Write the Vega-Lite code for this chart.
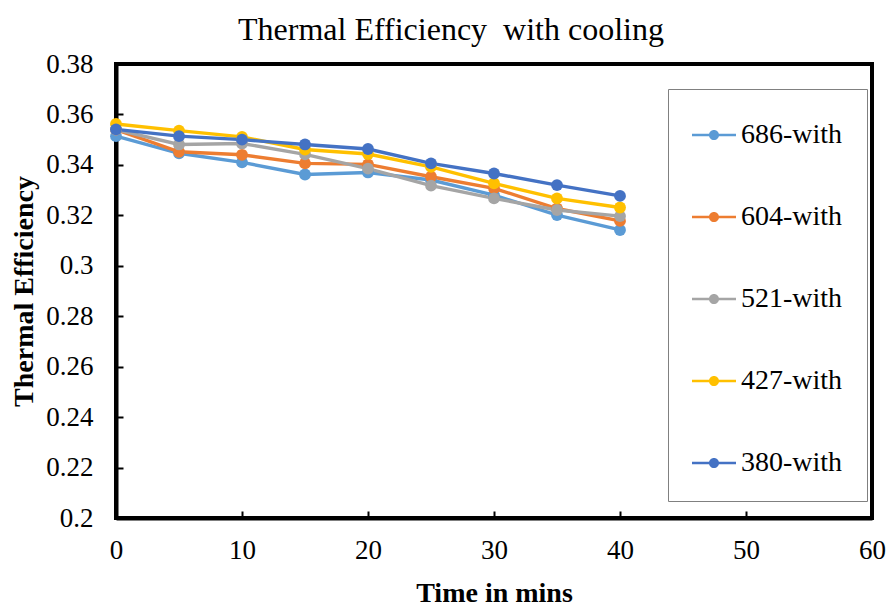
{
  "$schema": "https://vega.github.io/schema/vega-lite/v6.json",
  "width": 756,
  "height": 454,
  "autosize": "none",
  "padding": {"left": 116, "top": 64, "right": 15, "bottom": 89},
  "background": "white",
  "title": {
    "text": "Thermal Efficiency\u00a0 with cooling",
    "font": "Liberation Serif",
    "fontSize": 32,
    "fontWeight": "normal",
    "color": "black",
    "anchor": "middle",
    "dx": -43,
    "offset": 3
  },
  "config": {
    "font": "Liberation Serif",
    "view": {"stroke": "black", "strokeWidth": 4},
    "axis": {
      "labelFont": "Liberation Serif",
      "labelFontSize": 27,
      "labelColor": "black",
      "labelFlush": false,
      "titleFont": "Liberation Serif",
      "titleFontSize": 28,
      "titleFontWeight": "bold",
      "titleColor": "black",
      "domainColor": "black",
      "domainWidth": 4,
      "tickColor": "black",
      "tickWidth": 2,
      "tickSize": -7,
      "grid": false
    },
    "legend": {"labelFont": "Liberation Serif"}
  },
  "data": {
    "values": [
      {"t": 0, "series": "686-with", "eff": 0.3514},
      {"t": 5, "series": "686-with", "eff": 0.3446},
      {"t": 10, "series": "686-with", "eff": 0.3410},
      {"t": 15, "series": "686-with", "eff": 0.3362},
      {"t": 20, "series": "686-with", "eff": 0.3370},
      {"t": 25, "series": "686-with", "eff": 0.3340},
      {"t": 30, "series": "686-with", "eff": 0.3280},
      {"t": 35, "series": "686-with", "eff": 0.3201},
      {"t": 40, "series": "686-with", "eff": 0.3142},
      {"t": 0, "series": "604-with", "eff": 0.3540},
      {"t": 5, "series": "604-with", "eff": 0.3452},
      {"t": 10, "series": "604-with", "eff": 0.3440},
      {"t": 15, "series": "604-with", "eff": 0.3406},
      {"t": 20, "series": "604-with", "eff": 0.3402},
      {"t": 25, "series": "604-with", "eff": 0.3353},
      {"t": 30, "series": "604-with", "eff": 0.3307},
      {"t": 35, "series": "604-with", "eff": 0.3227},
      {"t": 40, "series": "604-with", "eff": 0.3178},
      {"t": 0, "series": "521-with", "eff": 0.3540},
      {"t": 5, "series": "521-with", "eff": 0.3481},
      {"t": 10, "series": "521-with", "eff": 0.3485},
      {"t": 15, "series": "521-with", "eff": 0.3442},
      {"t": 20, "series": "521-with", "eff": 0.3385},
      {"t": 25, "series": "521-with", "eff": 0.3318},
      {"t": 30, "series": "521-with", "eff": 0.3267},
      {"t": 35, "series": "521-with", "eff": 0.3221},
      {"t": 40, "series": "521-with", "eff": 0.3197},
      {"t": 0, "series": "427-with", "eff": 0.3562},
      {"t": 5, "series": "427-with", "eff": 0.3536},
      {"t": 10, "series": "427-with", "eff": 0.3511},
      {"t": 15, "series": "427-with", "eff": 0.3461},
      {"t": 20, "series": "427-with", "eff": 0.3443},
      {"t": 25, "series": "427-with", "eff": 0.3392},
      {"t": 30, "series": "427-with", "eff": 0.3327},
      {"t": 35, "series": "427-with", "eff": 0.3267},
      {"t": 40, "series": "427-with", "eff": 0.3231},
      {"t": 0, "series": "380-with", "eff": 0.3541},
      {"t": 5, "series": "380-with", "eff": 0.3514},
      {"t": 10, "series": "380-with", "eff": 0.3500},
      {"t": 15, "series": "380-with", "eff": 0.3481},
      {"t": 20, "series": "380-with", "eff": 0.3463},
      {"t": 25, "series": "380-with", "eff": 0.3406},
      {"t": 30, "series": "380-with", "eff": 0.3366},
      {"t": 35, "series": "380-with", "eff": 0.3320},
      {"t": 40, "series": "380-with", "eff": 0.3277}
    ]
  },
  "encoding": {
    "x": {
      "field": "t",
      "type": "quantitative",
      "title": "Time in mins",
      "scale": {"domain": [0, 60], "nice": false, "zero": false},
      "axis": {"values": [0, 10, 20, 30, 40, 50, 60], "labelPadding": 26, "titlePadding": 16}
    },
    "y": {
      "field": "eff",
      "type": "quantitative",
      "title": "Thermal Efficiency",
      "scale": {"domain": [0.2, 0.38], "nice": false, "zero": false},
      "axis": {
        "values": [0.2, 0.22, 0.24, 0.26, 0.28, 0.3, 0.32, 0.34, 0.36, 0.38],
        "format": ".2~f",
        "labelPadding": 30,
        "titlePadding": 7
      }
    },
    "color": {
      "field": "series",
      "type": "nominal",
      "scale": {
        "domain": ["686-with", "604-with", "521-with", "427-with", "380-with"],
        "range": ["#5B9BD5", "#ED7D31", "#A5A5A5", "#FFC000", "#4472C4"]
      },
      "legend": {
        "title": null,
        "orient": "none",
        "legendX": 552,
        "legendY": 25,
        "direction": "vertical",
        "padding": 24,
        "rowPadding": 46,
        "strokeColor": "#808080",
        "fillColor": "white",
        "labelFont": "Liberation Serif",
        "labelFontSize": 28,
        "labelColor": "black",
        "labelOffset": 5,
        "labelLimit": 300,
        "symbolType": "M-1,-0.06H1V0.06H-1Z M0.23,0A0.23,0.23,0,1,1,-0.23,0A0.23,0.23,0,1,1,0.23,0Z",
        "symbolSize": 1936,
        "symbolStrokeWidth": 0,
        "symbolOpacity": 1,
        "encode": {
          "symbols": {
            "update": {
              "fill": {"scale": "color", "field": "value"}
            }
          }
        }
      }
    }
  },
  "layer": [
    {"mark": {"type": "line", "strokeWidth": 3.4}},
    {"mark": {"type": "point", "filled": true, "size": 140, "opacity": 1, "shape": "circle"}}
  ]
}
